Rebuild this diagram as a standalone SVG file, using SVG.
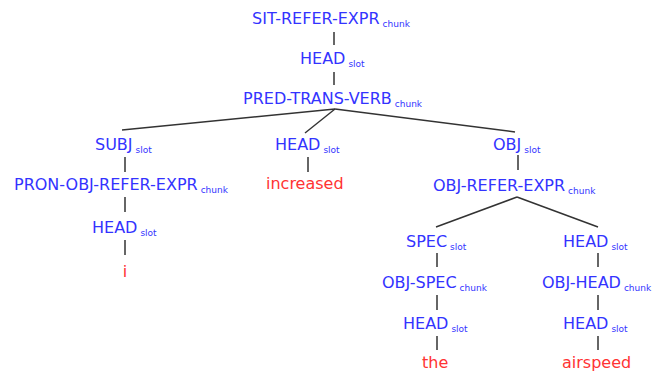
<svg xmlns="http://www.w3.org/2000/svg" width="657" height="372" viewBox="0 0 657 372">
<style>
text{font-family:"DejaVu Sans",Verdana,sans-serif;font-size:16px}
.b{fill:#3333ff}
.r{fill:#ff3333}
.s{font-size:9px}
#edges line{stroke:#333;stroke-width:1.5}
</style>
<rect width="657" height="372" fill="#fff"/>
<g id="edges">
<line x1="334" y1="32" x2="334" y2="45"/>
<line x1="334" y1="72" x2="334" y2="85"/>
<line x1="335" y1="109" x2="122" y2="130"/>
<line x1="335" y1="109" x2="305" y2="133"/>
<line x1="335" y1="109" x2="515" y2="132"/>
<line x1="125" y1="157" x2="125" y2="172"/>
<line x1="125" y1="197" x2="125" y2="212"/>
<line x1="125" y1="240" x2="125" y2="255"/>
<line x1="308" y1="157" x2="308" y2="172"/>
<line x1="518" y1="155" x2="518" y2="170"/>
<line x1="517" y1="197" x2="436" y2="227"/>
<line x1="517" y1="197" x2="598" y2="227"/>
<line x1="437" y1="253" x2="437" y2="267"/>
<line x1="437" y1="295" x2="437" y2="310"/>
<line x1="437" y1="336" x2="437" y2="350"/>
<line x1="598" y1="253" x2="598" y2="267"/>
<line x1="598" y1="295" x2="598" y2="310"/>
<line x1="598" y1="336" x2="598" y2="350"/>
</g>
<g id="n1"><text class="b" x="252" y="24">SIT-REFER-EXPR<tspan class="s" dx="3" dy="3">chunk</tspan></text></g>
<g id="n2"><text class="b" x="300" y="64">HEAD<tspan class="s" dx="3" dy="3">slot</tspan></text></g>
<g id="n3"><text class="b" x="243" y="104">PRED-TRANS-VERB<tspan class="s" dx="3" dy="3">chunk</tspan></text></g>
<g id="n4"><text class="b" x="95" y="150">SUBJ<tspan class="s" dx="3" dy="3">slot</tspan></text></g>
<g id="n5"><text class="b" x="14" y="190">PRON-OBJ-REFER-EXPR<tspan class="s" dx="3" dy="3">chunk</tspan></text></g>
<g id="n6"><text class="b" x="92" y="233">HEAD<tspan class="s" dx="3" dy="3">slot</tspan></text></g>
<g id="n7"><text class="r" x="125" y="277" text-anchor="middle">i</text></g>
<g id="n8"><text class="b" x="275" y="150">HEAD<tspan class="s" dx="3" dy="3">slot</tspan></text></g>
<g id="n9"><text class="r" x="266" y="189">increased</text></g>
<g id="n10"><text class="b" x="493" y="150">OBJ<tspan class="s" dx="3" dy="3">slot</tspan></text></g>
<g id="n11"><text class="b" x="433" y="191">OBJ-REFER-EXPR<tspan class="s" dx="3" dy="3">chunk</tspan></text></g>
<g id="n12"><text class="b" x="406" y="247">SPEC<tspan class="s" dx="3" dy="3">slot</tspan></text></g>
<g id="n13"><text class="b" x="382" y="288">OBJ-SPEC<tspan class="s" dx="3" dy="3">chunk</tspan></text></g>
<g id="n14"><text class="b" x="403" y="329">HEAD<tspan class="s" dx="3" dy="3">slot</tspan></text></g>
<g id="n15"><text class="r" x="422" y="368">the</text></g>
<g id="n16"><text class="b" x="563" y="247">HEAD<tspan class="s" dx="3" dy="3">slot</tspan></text></g>
<g id="n17"><text class="b" x="542" y="288">OBJ-HEAD<tspan class="s" dx="3" dy="3">chunk</tspan></text></g>
<g id="n18"><text class="b" x="563" y="329">HEAD<tspan class="s" dx="3" dy="3">slot</tspan></text></g>
<g id="n19"><text class="r" x="562" y="368">airspeed</text></g>
</svg>
